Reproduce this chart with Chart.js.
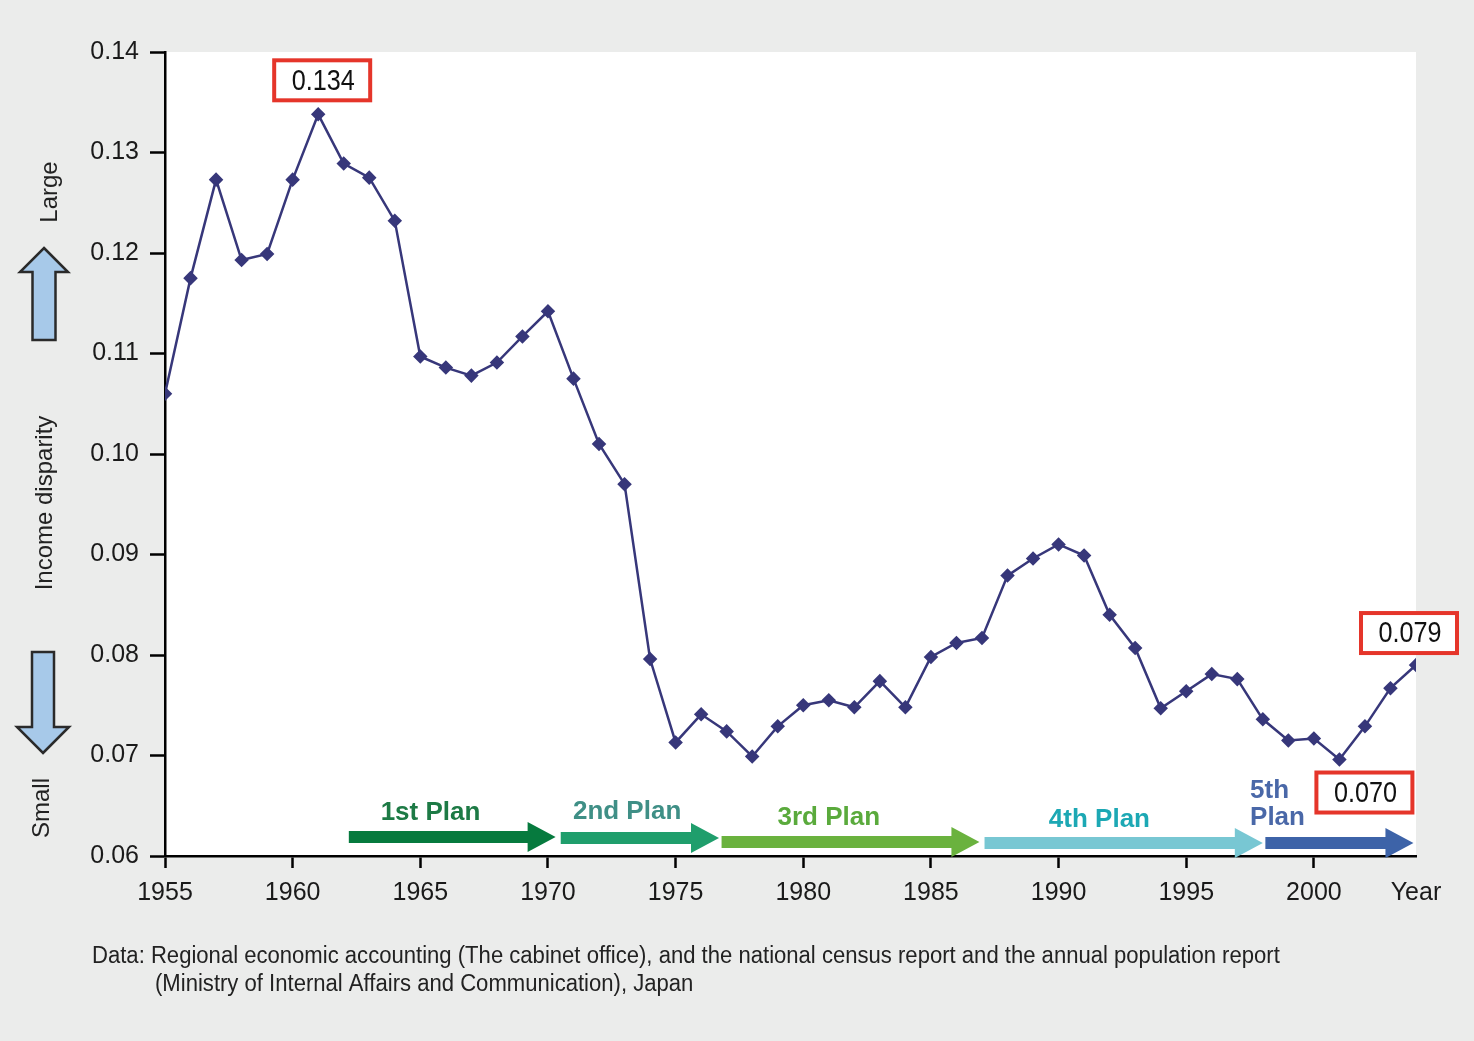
<!DOCTYPE html>
<html>
<head>
<meta charset="utf-8">
<script src="https://cdn.jsdelivr.net/npm/chart.js@4"></script>
<style>
  html, body { margin: 0; background: #ebeceb; }
  canvas { display: block; }
</style>
</head>
<body>
<canvas id="disparityChart" width="1474" height="1041"></canvas>
<script>
// Data
const years = [1955, 1956, 1957, 1958, 1959, 1960, 1961, 1962, 1963, 1964,
  1965, 1966, 1967, 1968, 1969, 1970, 1971, 1972, 1973, 1974,
  1975, 1976, 1977, 1978, 1979, 1980, 1981, 1982, 1983, 1984,
  1985, 1986, 1987, 1988, 1989, 1990, 1991, 1992, 1993, 1994,
  1995, 1996, 1997, 1998, 1999, 2000, 2001, 2002, 2003, 2004];
const disparity = [0.1060, 0.1175, 0.1273, 0.1193, 0.1199, 0.1273, 0.1338, 0.1289, 0.1275, 0.1232,
  0.1097, 0.1086, 0.1078, 0.1091, 0.1117, 0.1142, 0.1075, 0.1010, 0.0970, 0.0796,
  0.0713, 0.0741, 0.0724, 0.0699, 0.0729, 0.0750, 0.0755, 0.0748, 0.0774, 0.0748,
  0.0798, 0.0812, 0.0817, 0.0879, 0.0896, 0.0910, 0.0899, 0.0840, 0.0807, 0.0747,
  0.0764, 0.0781, 0.0776, 0.0736, 0.0715, 0.0717, 0.0696, 0.0729, 0.0767, 0.0790];
const yTicks = [0.06, 0.07, 0.08, 0.09, 0.10, 0.11, 0.12, 0.13, 0.14];
const xTicks = [1955, 1960, 1965, 1970, 1975, 1980, 1985, 1990, 1995, 2000];
const yearLabelAt = 2004;

// Development plans (years covered by each arrow)
const planNames = ['1st Plan', '2nd Plan', '3rd Plan', '4th Plan', '5th\nPlan'];
const planStart = [1962.2, 1970.5, 1976.8, 1987.1, 1998.1];
const planEnd = [1970.3, 1976.7, 1986.9, 1998.0, 2003.9];

// Highlighted values
const calloutYears = [1961, 2004, 2001];
const calloutText = ['0.134', '0.079', '0.070'];

const NARROW = '"Liberation Sans Narrow", "Arial Narrow", "Liberation Sans", sans-serif';
const SANS = '"Liberation Sans", Arial, sans-serif';

// styles for the drawn annotations
const planArrowColors = ['#067a3e', '#1f9e6c', '#6ab23e', '#78c7d3', '#3d63a8'];
const planTextColors = ['#1d7a45', '#3f8f86', '#5aaa3c', '#1ca8b4', '#4a68a8'];
const planLabelX = [1965.4, 1973.1, 1981.0, 1991.6, 1997.5];
const planArrowY = [837, 838, 842, 843, 843];
const planLabelY = [813, 812, 818, 820, 791];
const calloutOffset = [[4, -34], [-7, -32], [25, 33]];

function arrow(ctx, x0, x1, y, shaft, headH, headL, color) {
  ctx.fillStyle = color;
  ctx.beginPath();
  ctx.moveTo(x0, y - shaft / 2);
  ctx.lineTo(x1 - headL, y - shaft / 2);
  ctx.lineTo(x1 - headL, y - headH / 2);
  ctx.lineTo(x1, y);
  ctx.lineTo(x1 - headL, y + headH / 2);
  ctx.lineTo(x1 - headL, y + shaft / 2);
  ctx.lineTo(x0, y + shaft / 2);
  ctx.closePath();
  ctx.fill();
}

function sideArrow(ctx, cx, tipY, headY, endY, shaftW, headW) {
  ctx.beginPath();
  ctx.moveTo(cx, tipY);
  ctx.lineTo(cx + headW / 2, headY);
  ctx.lineTo(cx + shaftW / 2, headY);
  ctx.lineTo(cx + shaftW / 2, endY);
  ctx.lineTo(cx - shaftW / 2, endY);
  ctx.lineTo(cx - shaftW / 2, headY);
  ctx.lineTo(cx - headW / 2, headY);
  ctx.closePath();
  ctx.fillStyle = '#a7c9e9';
  ctx.fill();
  ctx.strokeStyle = '#2a2a2a';
  ctx.lineWidth = 2.5;
  ctx.stroke();
}

function rotatedText(ctx, text, x, y) {
  ctx.save();
  ctx.translate(x, y);
  ctx.rotate(-Math.PI / 2);
  ctx.fillText(text, 0, 0);
  ctx.restore();
}

// text squeezed horizontally, to look like the narrow face of the original
function narrowText(ctx, text, x, y, squeeze) {
  ctx.save();
  ctx.translate(x, y);
  ctx.scale(squeeze, 1);
  ctx.fillText(text, 0, 0);
  ctx.restore();
}

const annotations = {
  id: 'annotations',
  beforeDraw(chart) {
    const { ctx, chartArea: a } = chart;
    ctx.save();
    ctx.fillStyle = '#ffffff';
    ctx.fillRect(a.left, a.top, a.right - a.left, a.bottom - a.top);
    ctx.restore();
  },
  afterDraw(chart) {
    const { ctx } = chart;
    const x = chart.scales.x, y = chart.scales.y;
    ctx.save();

    // plan arrows
    planNames.forEach((name, i) => {
      arrow(ctx, x.getPixelForValue(planStart[i]), x.getPixelForValue(planEnd[i]),
        planArrowY[i], 12, 30, 28, planArrowColors[i]);
      ctx.fillStyle = planTextColors[i];
      ctx.font = 'bold 26px ' + SANS;
      ctx.textBaseline = 'middle';
      const lines = name.split('\n');
      ctx.textAlign = lines.length > 1 ? 'left' : 'center';
      lines.forEach((t, j) => ctx.fillText(t, x.getPixelForValue(planLabelX[i]), planLabelY[i] + j * 27));
    });

    // value callouts
    calloutYears.forEach((yr, i) => {
      const idx = years.indexOf(yr);
      const cx = x.getPixelForValue(yr) + calloutOffset[i][0];
      const cy = y.getPixelForValue(disparity[idx]) + calloutOffset[i][1];
      const w = 96, h = 40;
      ctx.fillStyle = '#fff';
      ctx.fillRect(cx - w / 2, cy - h / 2, w, h);
      ctx.strokeStyle = '#e5352a';
      ctx.lineWidth = 4;
      ctx.strokeRect(cx - w / 2, cy - h / 2, w, h);
      ctx.fillStyle = '#111';
      ctx.font = '30px ' + NARROW;
      ctx.textAlign = 'center';
      ctx.textBaseline = 'middle';
      narrowText(ctx, calloutText[i], cx + 1, cy + 1, 0.84);
    });

    // left side: income disparity direction
    sideArrow(ctx, 44, 248, 272, 340, 23, 48);
    sideArrow(ctx, 43, 753, 727, 652, 22, 52);
    ctx.fillStyle = '#222';
    ctx.font = '24px ' + SANS;
    ctx.textAlign = 'center';
    ctx.textBaseline = 'middle';
    rotatedText(ctx, 'Large', 50, 192);
    rotatedText(ctx, 'Income disparity', 45, 503);
    rotatedText(ctx, 'Small', 42, 808);

    // source note
    ctx.font = '23px ' + NARROW;
    ctx.textAlign = 'left';
    ctx.fillStyle = '#222';
    narrowText(ctx, 'Data: Regional economic accounting (The cabinet office), and the national census report and the annual population report', 92, 957, 0.96);
    narrowText(ctx, '(Ministry of Internal Affairs and Communication), Japan', 155, 985, 0.96);
    ctx.restore();
  }
};

const ctx = document.getElementById('disparityChart').getContext('2d');
const disparityChart = new Chart(ctx, {
  type: 'line',
  data: {
    datasets: [{
      label: 'Income disparity',
      data: years.map((yr, i) => ({ x: yr, y: disparity[i] })),
      borderColor: '#37377a',
      backgroundColor: '#37377a',
      borderWidth: 2.5,
      pointStyle: 'rectRot',
      pointRadius: 5.5,
      pointHoverRadius: 5.5,
      tension: 0,
    }],
  },
  options: {
    responsive: false,
    animation: false,
    devicePixelRatio: 1,
    layout: { padding: { left: 0, top: 52, right: 58, bottom: 0 } },
    plugins: {
      legend: { display: false },
      tooltip: { enabled: false },
    },
    scales: {
      x: {
        type: 'linear',
        min: 1955,
        max: 2004,
        afterBuildTicks: s => { s.ticks = xTicks.concat([yearLabelAt]).map(v => ({ value: v })); },
        afterFit: s => { s.height = 185; },
        border: { color: '#000', width: 2.5 },
        grid: {
          drawOnChartArea: false,
          tickLength: 12,
          tickWidth: 2.5,
          tickColor: c => (c.tick && c.tick.value === yearLabelAt) ? 'rgba(0,0,0,0)' : '#000',
        },
        ticks: {
          autoSkip: false,
          maxRotation: 0,
          padding: 10,
          color: '#1a1a1a',
          font: { family: NARROW, size: 25 },
          callback: v => v === yearLabelAt ? 'Year' : String(v),
        },
      },
      y: {
        min: 0.06,
        max: 0.14,
        afterBuildTicks: s => { s.ticks = yTicks.map(v => ({ value: v })); },
        afterFit: s => { s.width = 165; },
        border: { color: '#000', width: 2.5 },
        grid: {
          drawOnChartArea: false,
          tickLength: 15,
          tickWidth: 2.5,
          tickColor: '#000',
        },
        ticks: {
          padding: 11,
          color: '#1a1a1a',
          font: { family: NARROW, size: 25 },
          callback: v => v.toFixed(2),
        },
      },
    },
  },
  plugins: [annotations],
});
</script>
</body>
</html>
